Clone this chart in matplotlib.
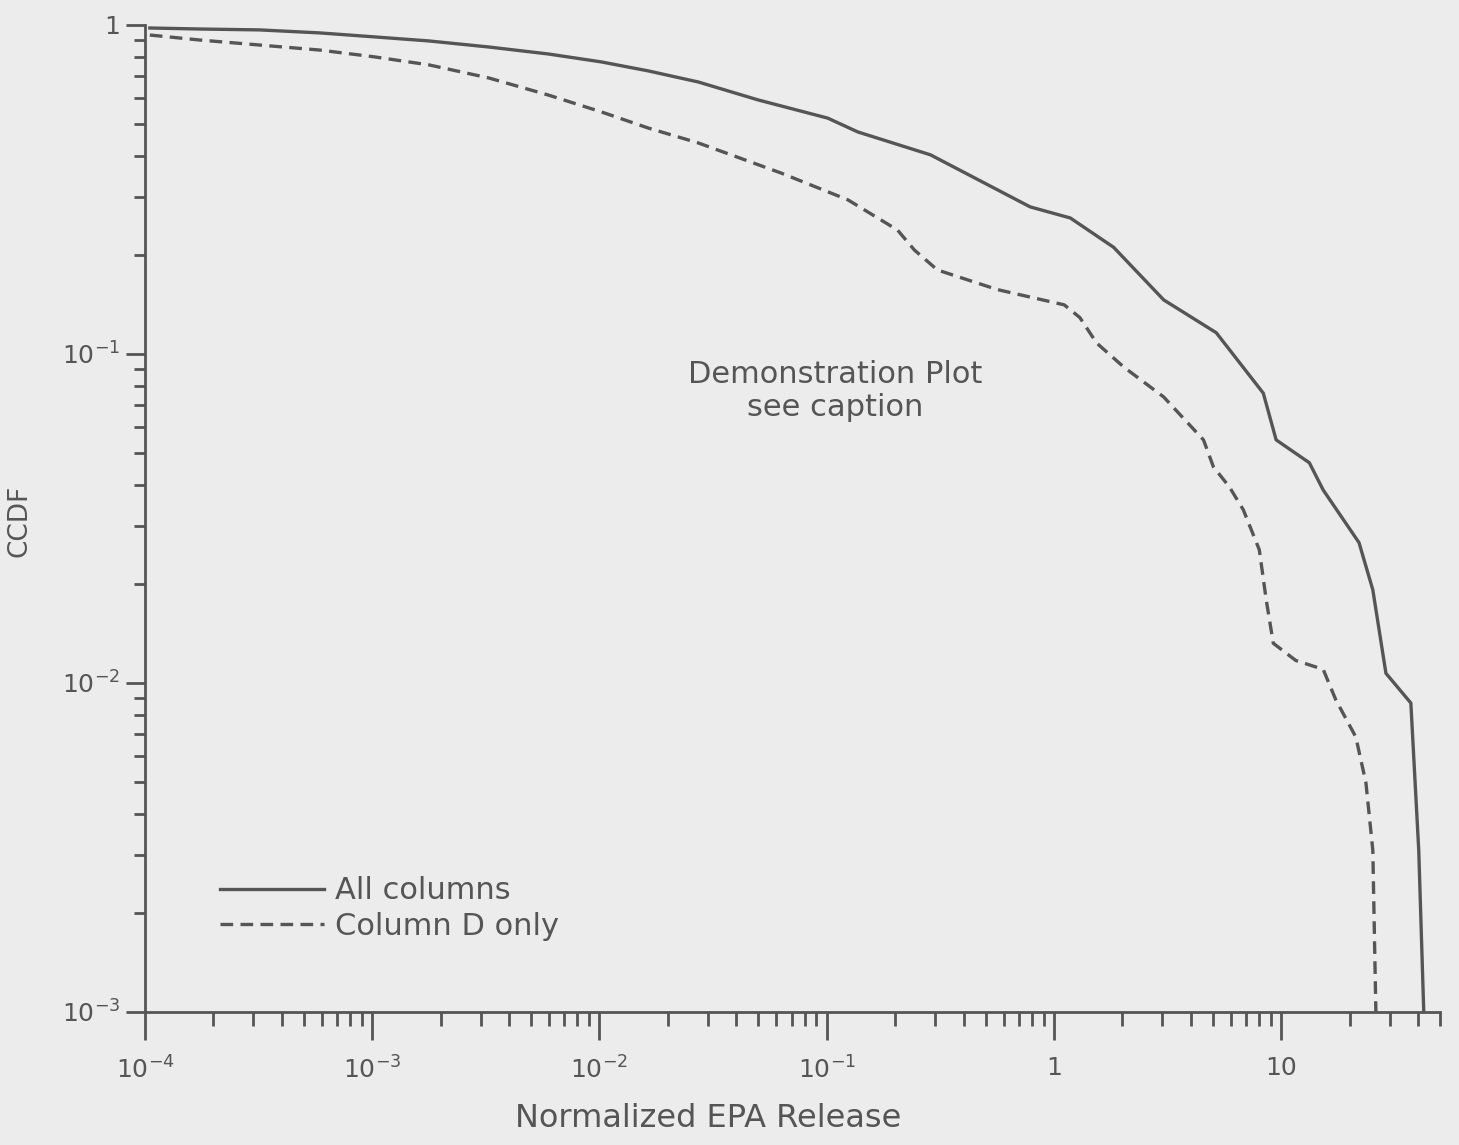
import numpy as np
import matplotlib.pyplot as plt
from matplotlib.ticker import FixedLocator, FuncFormatter, LogLocator, NullFormatter

plt.rcParams['font.family'] = ['DejaVu Sans']
plt.rcParams['mathtext.fontset'] = 'dejavusans'

all_x = [1.05e-4, 1.74e-4, 3.19e-4, 5.86e-4, 1.02e-3, 1.78e-3, 3.26e-3, 5.97e-3, 0.0102,
         0.0164, 0.0272, 0.0498, 0.101, 0.137, 0.286, 0.785, 1.18, 1.83, 3.04, 5.18,
         8.34, 9.5, 13.3, 15.3, 22.0, 25.3, 28.9, 37.2, 40.3, 42.4]
all_y = [0.979, 0.972, 0.966, 0.946, 0.92, 0.894, 0.857, 0.816, 0.772,
         0.725, 0.671, 0.592, 0.521, 0.473, 0.403, 0.280, 0.259, 0.211, 0.146, 0.116,
         0.076, 0.0548, 0.0467, 0.0386, 0.0267, 0.0192, 0.0107, 0.00869, 0.0031, 0.001]

colD_x = [1.05e-4, 1.74e-4, 3.19e-4, 5.86e-4, 1.02e-3, 1.78e-3, 3.26e-3, 5.97e-3, 0.0102,
          0.0164, 0.0272, 0.0628, 0.124, 0.205, 0.243, 0.307, 0.562, 1.11, 1.30, 1.54,
          2.03, 3.04, 4.55, 5.03, 5.92, 6.81, 8.01, 8.59, 9.23, 11.6, 15.3, 17.4, 21.3,
          23.6, 25.3, 26.1]
colD_y = [0.932, 0.900, 0.869, 0.839, 0.80, 0.756, 0.69, 0.612, 0.544,
          0.486, 0.438, 0.355, 0.294, 0.238, 0.207, 0.180, 0.157, 0.141, 0.129, 0.108,
          0.0912, 0.074, 0.0548, 0.0454, 0.0394, 0.0336, 0.0254, 0.0179, 0.0132, 0.0117,
          0.0110, 0.00888, 0.00685, 0.00497, 0.0031, 0.001]

x_major = [1e-4, 1e-3, 1e-2, 1e-1, 1, 10]
x_labels = [r'$10^{-4}$', r'$10^{-3}$', r'$10^{-2}$', r'$10^{-1}$', '1', '10']
y_major = [1e-3, 1e-2, 1e-1, 1]
y_labels = [r'$10^{-3}$', r'$10^{-2}$', r'$10^{-1}$', '1']

ink = '#555555'
paper = '#ececec'

fig = plt.figure(figsize=(14.59, 11.45), dpi=100, facecolor=paper)
ax = fig.add_axes([0.0994, 0.1162, 0.8876, 0.8620])
ax.set_facecolor(paper)

ax.plot(all_x, all_y, color=ink, lw=2.4, label='All columns')
ax.plot(colD_x, colD_y, color=ink, lw=2.4, ls=(0, (3.8, 2.2)), label='Column D only')

ax.set_xscale('log')
ax.set_yscale('log')
ax.set_xlim(1e-4, 50)
ax.set_ylim(1e-3, 1)

for s in ['top', 'right']:
    ax.spines[s].set_visible(False)
for s in ['left', 'bottom']:
    ax.spines[s].set_color(ink)
    ax.spines[s].set_linewidth(2)

ax.xaxis.set_major_locator(FixedLocator(x_major))
ax.xaxis.set_major_formatter(FuncFormatter(lambda v, p: x_labels[x_major.index(v)] if v in x_major else ''))
ax.xaxis.set_minor_locator(LogLocator(base=10, subs=np.arange(2, 10), numticks=20))
ax.xaxis.set_minor_formatter(NullFormatter())
ax.yaxis.set_major_locator(FixedLocator(y_major))
ax.yaxis.set_major_formatter(FuncFormatter(lambda v, p: y_labels[y_major.index(v)] if v in y_major else ''))
ax.yaxis.set_minor_locator(LogLocator(base=10, subs=np.arange(2, 10), numticks=20))
ax.yaxis.set_minor_formatter(NullFormatter())

ax.tick_params(axis='x', which='major', direction='out', length=20, width=2, color=ink,
               labelsize=18, labelcolor=ink, pad=12)
ax.tick_params(axis='x', which='minor', direction='out', length=10, width=2, color=ink)
ax.tick_params(axis='y', which='major', direction='out', length=14, width=2, color=ink,
               labelsize=18, labelcolor=ink, pad=4)
ax.tick_params(axis='y', which='minor', direction='out', length=8, width=2, color=ink)

ax.set_xlabel('Normalized EPA Release', fontsize=23, color=ink)
ax.xaxis.set_label_coords(0.435, -0.092)
ax.set_ylabel('CCDF', fontsize=19, color=ink)
ax.yaxis.set_label_coords(-0.087, 0.498)

ax.text(0.533, 0.629, 'Demonstration Plot\nsee caption', transform=ax.transAxes,
        ha='center', va='center', fontsize=22, color=ink, linespacing=1.2)

leg = ax.legend(loc='lower left', bbox_to_anchor=(0.037, 0.044), frameon=False,
                fontsize=22, handlelength=3.4, handletextpad=0.35, labelspacing=0.22,
                labelcolor=ink)

fig.savefig('out.png', dpi=100, facecolor=paper)
